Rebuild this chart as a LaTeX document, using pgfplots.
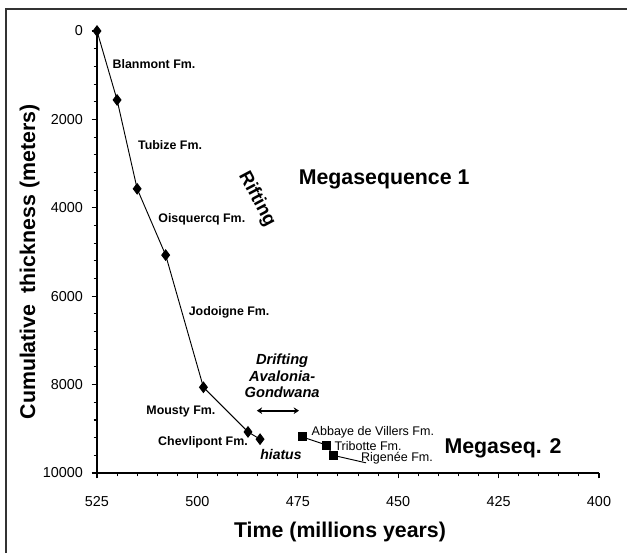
\documentclass[border=0pt]{standalone}
\usepackage{pgfplots}
\pgfplotsset{compat=1.18}
\usetikzlibrary{arrows.meta}
\usepackage{fontspec}
\setmainfont{Liberation Sans}
\begin{document}
\begin{tikzpicture}
\useasboundingbox (0,0) rectangle (470.25pt,414.75pt);
\fill[white] (0,0) rectangle (470.25pt,414.75pt);
\draw[line width=1.2pt, black!80] (4.5pt,0) -- (4.5pt,408pt) -- (470.25pt,408pt);
\begin{axis}[
  at={(72.75pt,60pt)}, anchor=south west,
  scale only axis, width=376.5pt, height=331.5pt,
  x dir=reverse, y dir=reverse,
  xmin=400, xmax=525, ymin=0, ymax=10000,
  axis x line*=bottom, axis y line*=left,
  axis line style={-, line width=1.1pt, black},
  xtick={400,425,450,475,500,525},
  ytick={0,2000,4000,6000,8000,10000},
  minor x tick num=4, minor y tick num=4,
  tick align=outside,
  major tick length=4pt, minor tick length=2.5pt,
  tick style={black, line width=0.8pt},
  scaled y ticks=false,
  /pgf/number format/assume math mode=true,
  /pgf/number format/1000 sep={},
  ticklabel style={font=\fontsize{10.8}{12}\selectfont},
  xticklabel style={yshift=-10pt},
  yticklabel style={xshift=-3pt},
  clip=false,
]
\addplot[black, line width=0.7pt, mark=diamond*, mark size=3.9pt, mark options={solid, fill=black}]
  coordinates {(525,0) (520,1560) (515,3570) (507.9,5070) (498.5,8060) (487.4,9070) (484.4,9235)};
\addplot[black, line width=0.7pt, mark=none]
  coordinates {(474,9180) (467.8,9370) (466.2,9600) (458,9770)};
\addplot[only marks, mark=square*, mark size=3pt, mark options={fill=black}]
  coordinates {(474,9180) (467.8,9370) (466.2,9600)};

\draw[{Stealth[length=4pt,width=5pt]}-{Stealth[length=4pt,width=5pt]}, line width=1.3pt] (axis cs:485.2,8590) -- (axis cs:474.7,8590);

\node[font=\bfseries\fontsize{9.3}{11}\selectfont] at (axis cs:510.8,747) {Blanmont Fm.};
\node[font=\bfseries\fontsize{9.3}{11}\selectfont] at (axis cs:506.8,2579) {Tubize Fm.};
\node[font=\bfseries\fontsize{9.3}{11}\selectfont] at (axis cs:498.9,4253) {Oisquercq Fm.};
\node[font=\bfseries\fontsize{9.3}{11}\selectfont] at (axis cs:492.1,6357) {Jodoigne Fm.};
\node[font=\bfseries\fontsize{9.3}{11}\selectfont] at (axis cs:504.1,8620) {Mousty Fm.};
\node[font=\bfseries\fontsize{9.3}{11}\selectfont] at (axis cs:498.6,9299) {Chevlipont Fm.};
\node[font=\bfseries\itshape\fontsize{10.5}{12}\selectfont] at (axis cs:479.2,9570) {hiatus};
\node[font=\bfseries\itshape\fontsize{11}{12.5}\selectfont, align=center] at (axis cs:478.9,7805) {Drifting\\Avalonia-\\Gondwana};
\node[font=\fontsize{9.4}{11}\selectfont] at (axis cs:456.3,9072) {Abbaye de Villers Fm.};
\node[font=\fontsize{9.4}{11}\selectfont] at (axis cs:457.5,9389) {Tribotte Fm.};
\node[font=\fontsize{9.4}{11}\selectfont] at (axis cs:450.3,9661) {Rigenée Fm.};
\node[font=\bfseries\fontsize{16}{18}\selectfont] at (axis cs:453.5,3348) {Megasequence 1};
\node[font=\bfseries\fontsize{16}{18}\selectfont] at (axis cs:423.9,9434) {Megaseq. 2};
\node[font=\bfseries\fontsize{14}{16}\selectfont, rotate=-62] at (axis cs:485.2,3800) {Rifting};
\end{axis}
\node[anchor=base, font=\bfseries\fontsize{16}{18}\selectfont] at (255pt,12pt) {Time (millions years)};
\node[anchor=base, rotate=90, font=\bfseries\fontsize{16}{18}\selectfont] at (26.25pt,218.25pt) {Cumulative\hspace{0.25em} thickness (meters)};
\end{tikzpicture}
\end{document}
